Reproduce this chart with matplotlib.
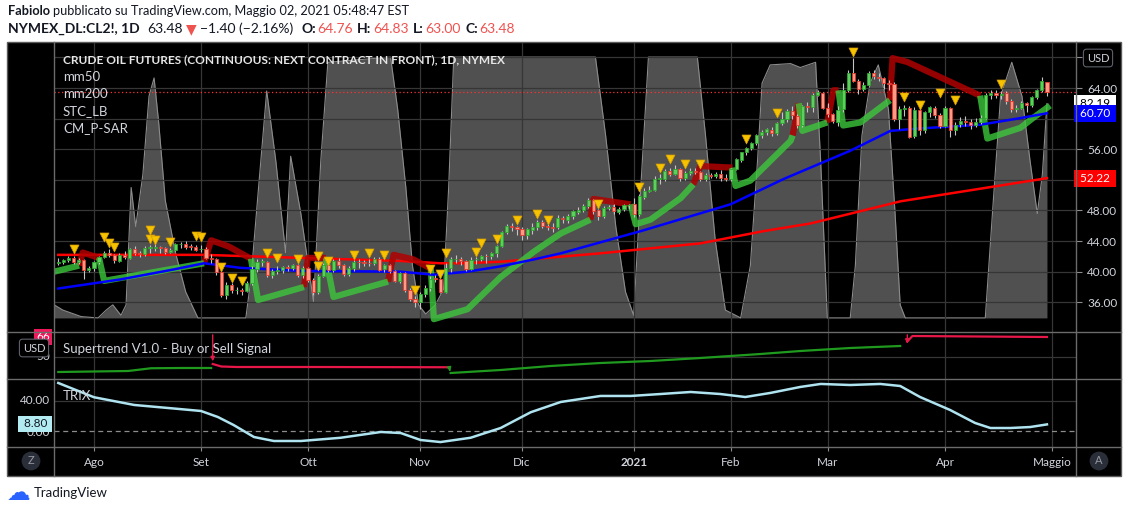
#!/usr/bin/env python3
"""
TradingView screenshot: NYMEX CL2! daily candles with mm50 / mm200,
STC_LB background, P-SAR trailing line, Supertrend and TRIX panes.
"""
import matplotlib
matplotlib.use("Agg")
import matplotlib.pyplot as plt
from matplotlib.lines import Line2D
from matplotlib.patches import Rectangle
from matplotlib.transforms import blended_transform_factory

W, H = 1130, 512
plt.rcParams['font.family'] = ['Lato', 'DejaVu Sans']

# ---- time axis (bar index of the first session of each month) ----
MONTH_LABELS = ["Ago", "Set", "Ott", "Nov", "Dic", "2021", "Feb", "Mar", "Apr", "Maggio"]
MONTH_START = [7, 28, 49, 71, 91, 113, 132, 151, 174, 195]

# ---- daily OHLC, 23 Jul 2020 .. 30 Apr 2021 ----
OPEN = [
    41.10, 41.30, 41.50, 41.85, 41.25, 41.50, 40.20,
    40.50, 41.25, 41.95, 42.40, 42.20, 41.45, 42.20, 41.85, 42.90, 42.50, 42.25,
    43.10, 43.15, 43.20, 43.05, 42.60, 42.85, 43.60, 43.65, 43.30, 43.20,
    42.90, 43.00, 41.75, 41.60, 40.00, 37.00, 38.30, 37.55, 37.60, 37.50, 38.50,
    40.40, 41.25, 41.30, 39.55, 40.05, 40.20, 40.55, 40.50, 40.85, 39.55,
    40.45, 38.95, 37.30, 39.45, 40.90, 40.20, 41.45, 40.85, 39.70, 40.45, 41.30,
    41.20, 41.15, 41.10, 41.70, 40.30, 40.90, 40.10, 38.80, 39.80, 37.60, 36.40,
    36.00, 37.05, 37.90, 39.05, 39.00, 37.40, 40.50, 41.60, 41.70, 41.35, 40.40,
    41.60, 41.70, 42.05, 42.00, 42.40, 43.30, 45.15, 45.95, 45.80,
    45.60, 44.80, 45.50, 45.90, 46.50, 46.00, 45.85, 45.80, 47.00, 46.80, 47.25,
    47.85, 48.05, 48.60, 49.35, 48.00, 47.25, 48.35, 48.50, 47.85, 48.25, 48.65,
    48.80, 47.50, 49.80, 50.55, 50.70, 52.15, 52.10, 53.10, 52.80, 53.45, 52.25,
    52.90, 53.20, 53.00, 52.15, 52.65, 52.50, 52.75, 52.25,
    52.10, 53.45, 54.65, 55.60, 56.15, 56.75, 57.85, 58.25, 58.55, 58.15, 59.40,
    59.95, 61.05, 60.40, 59.15, 61.60, 61.55, 63.10, 63.40,
    61.40, 60.55, 59.60, 61.20, 63.75, 66.00, 64.95, 63.90, 64.35, 65.90, 65.50,
    65.30, 64.70, 64.50, 59.90, 61.30, 61.45, 57.70, 61.10, 58.45, 60.90, 61.45, 60.45,
    59.05, 61.35, 58.55, 59.25, 59.65, 59.50, 59.20, 59.60, 60.05, 63.05, 63.35,
    63.05, 63.30, 62.35, 61.25, 61.35, 62.05, 61.80, 62.85, 63.75, 64.76,
]
HIGH = [
    41.75, 41.70, 42.10, 42.00, 41.80, 41.60, 40.80,
    41.45, 42.10, 42.70, 42.90, 42.25, 42.40, 42.70, 43.15, 43.30, 42.70, 43.40,
    43.50, 43.60, 43.30, 43.20, 43.10, 43.80, 43.90, 44.00, 43.60, 43.50,
    43.50, 43.20, 42.30, 41.80, 40.10, 38.60, 38.50, 38.00, 37.90, 38.80, 40.70,
    41.60, 41.70, 41.40, 40.30, 40.70, 40.80, 40.90, 41.00, 41.00, 40.70,
    40.60, 39.20, 39.70, 41.20, 41.30, 41.70, 41.80, 41.00, 40.70, 41.50, 41.60,
    41.50, 41.60, 41.90, 41.90, 41.00, 41.00, 40.20, 40.00, 39.90, 37.90, 36.80,
    37.30, 38.20, 39.40, 39.60, 39.20, 41.10, 41.90, 42.20, 41.90, 41.50, 41.90,
    41.90, 42.20, 42.30, 42.60, 43.50, 45.30, 46.20, 46.30, 46.00,
    45.90, 45.70, 46.30, 46.80, 46.70, 46.20, 46.30, 47.40, 47.30, 47.50, 48.00,
    48.40, 48.90, 49.60, 49.50, 48.20, 48.60, 48.70, 48.90, 48.40, 48.80, 48.90,
    49.60, 50.20, 50.90, 51.20, 52.50, 52.80, 53.40, 53.60, 53.90, 53.60, 53.20,
    53.50, 53.60, 53.20, 52.90, 52.90, 53.00, 53.30, 52.70,
    53.60, 54.80, 55.70, 56.30, 56.90, 58.00, 58.50, 58.80, 58.90, 59.50, 60.90,
    61.20, 61.70, 60.60, 61.80, 62.20, 63.30, 63.80, 63.50,
    62.00, 60.70, 61.60, 64.70, 66.30, 67.90, 65.20, 64.80, 66.20, 66.30, 65.90,
    65.50, 65.10, 64.80, 61.60, 61.80, 61.70, 61.50, 61.40, 61.00, 61.70, 61.60, 60.70,
    61.60, 61.50, 59.50, 60.20, 60.30, 59.90, 60.10, 60.50, 63.30, 63.80, 63.70,
    63.60, 63.60, 62.50, 61.80, 62.30, 62.20, 63.00, 63.90, 65.40, 64.83,
]
LOW = [
    40.90, 40.95, 41.30, 41.05, 41.00, 39.10, 39.90,
    40.10, 40.95, 41.80, 41.90, 41.20, 41.30, 41.60, 41.70, 42.20, 41.90, 42.10,
    42.50, 42.70, 42.50, 42.30, 42.40, 42.70, 43.10, 42.90, 42.80, 42.70,
    42.60, 41.60, 41.10, 39.60, 36.70, 36.40, 37.20, 37.10, 36.90, 37.30, 38.30,
    39.90, 40.80, 39.30, 39.20, 39.70, 39.80, 40.10, 40.20, 39.30, 39.20,
    38.70, 37.00, 37.10, 39.30, 39.90, 40.00, 40.50, 39.40, 39.50, 40.10, 40.50,
    40.70, 40.80, 40.90, 40.10, 39.90, 39.80, 38.60, 38.50, 37.40, 36.20, 35.40,
    35.10, 36.70, 37.50, 38.60, 37.20, 37.20, 39.90, 41.20, 40.90, 40.10, 40.20,
    41.00, 41.40, 41.20, 41.60, 41.90, 43.20, 44.90, 45.30, 44.80,
    44.20, 44.30, 44.90, 45.50, 45.70, 45.40, 45.20, 45.60, 46.30, 46.40, 46.90,
    47.50, 47.80, 48.30, 47.50, 46.70, 47.00, 48.00, 47.60, 47.60, 47.90, 48.20,
    47.20, 47.30, 49.50, 50.40, 50.50, 51.50, 51.80, 52.50, 52.60, 51.90, 52.00,
    52.60, 52.70, 51.80, 51.90, 52.20, 52.30, 51.80, 51.90,
    51.90, 53.30, 54.30, 55.20, 55.90, 56.60, 57.50, 57.90, 57.70, 57.90, 59.20,
    59.50, 60.00, 58.80, 58.90, 60.80, 60.80, 62.90, 61.20,
    60.20, 59.40, 59.00, 60.80, 63.50, 64.80, 63.20, 63.60, 64.20, 65.20, 64.90,
    63.90, 63.80, 59.70, 58.60, 60.30, 57.50, 57.50, 57.90, 58.10, 60.20, 60.10, 58.80,
    58.90, 57.60, 57.80, 58.90, 59.10, 58.70, 58.90, 59.30, 59.90, 62.60, 62.70,
    62.60, 61.90, 60.80, 60.90, 61.20, 60.90, 61.50, 62.50, 63.50, 63.00,
]
CLOSE = [
    41.32, 41.54, 41.85, 41.29, 41.52, 40.17, 40.52,
    41.26, 41.95, 42.44, 42.20, 41.47, 42.19, 41.86, 42.92, 42.49, 42.26, 43.14,
    43.14, 43.18, 43.07, 42.59, 42.87, 43.60, 43.64, 43.29, 43.22, 42.86,
    43.01, 41.76, 41.62, 40.02, 37.01, 38.30, 37.55, 37.58, 37.51, 38.53, 40.41,
    41.22, 41.36, 39.56, 40.05, 40.18, 40.56, 40.50, 40.85, 39.54, 40.47,
    38.97, 37.30, 39.47, 40.92, 40.20, 41.44, 40.85, 39.68, 40.45, 41.29, 41.21,
    41.13, 41.08, 41.71, 40.28, 40.89, 40.10, 38.81, 39.82, 37.64, 36.42, 36.04,
    37.06, 37.91, 39.04, 39.04, 37.39, 40.54, 41.61, 41.70, 41.37, 40.38, 41.59,
    41.68, 42.07, 41.99, 42.40, 43.31, 45.16, 45.96, 45.78, 45.59,
    44.80, 45.53, 45.89, 46.51, 46.01, 45.85, 45.77, 47.03, 46.82, 47.24, 47.87,
    48.07, 48.61, 49.35, 47.99, 47.27, 48.37, 48.48, 47.87, 48.25, 48.65, 48.77,
    47.52, 49.83, 50.53, 50.73, 52.14, 52.15, 53.11, 52.81, 53.47, 52.26, 52.88,
    53.21, 53.03, 52.17, 52.67, 52.51, 52.75, 52.24, 52.10,
    53.45, 54.66, 55.59, 56.13, 56.75, 57.87, 58.26, 58.58, 58.14, 59.37, 59.95,
    61.04, 60.42, 59.14, 61.60, 61.57, 63.12, 63.43, 61.40,
    60.54, 59.65, 61.18, 63.73, 65.99, 64.95, 63.91, 64.34, 65.92, 65.51, 65.29,
    64.70, 64.50, 59.90, 61.32, 61.45, 57.66, 61.08, 58.46, 60.87, 61.46, 60.45, 59.06,
    61.35, 58.55, 59.23, 59.67, 59.50, 59.22, 59.60, 60.08, 63.05, 63.36, 63.03,
    63.28, 62.34, 61.25, 61.33, 62.04, 61.81, 62.84, 63.76, 64.91, 63.48,
]
LAST_PRICE = 63.48

# ---- moving averages ----
MM50_X = [0, 12.3, 22.7, 28.6, 31.1, 35.8, 47.6, 67.2, 73.7, 80.3, 86.8, 93.3, 98.6,
          114.3, 131.9, 142.3, 147.6, 155.4, 163.3, 168.6, 180.9, 188.2, 194]
MM50_Y = [37.8, 39.0, 40.3, 41.1, 40.9, 40.5, 40.1, 40.0, 39.6, 40.0, 40.7, 41.6, 42.4,
          45.3, 48.8, 52.1, 53.6, 55.8, 58.4, 58.7, 59.2, 60.0, 60.70]
MM200_X = [0, 28.6, 67.2, 75, 79, 86.8, 106.4, 126, 138.4, 147.6, 165.3, 194]
MM200_Y = [42.2, 42.2, 41.4, 41.1, 41.1, 41.3, 42.4, 43.7, 45.3, 46.3, 49.2, 52.22]

# ---- STC_LB oscillator (0..100) drawn as grey area ----
STC_X = [-0.8, 0.9, 4.5, 7.8, 9.4, 10.7, 12.3, 13.3, 14.3, 15.2, 16.6, 17.8, 18.8, 19.7,
         21, 23, 25, 27.4, 36.8, 37.8, 39.3, 40.9, 42.7, 44.6, 45.6, 47.6, 50.1, 51.5,
         52.9, 65.2, 66.6, 68.2, 69.5, 70.7, 72.1, 74, 75.6, 76.6, 77.6, 105.4, 107.4,
         109.4, 111.3, 112.9, 114.3, 115.8, 125.4, 127, 128.9, 130.9, 133.9, 135.8, 137.2,
         138.1, 139.7, 143.7, 145.6, 148.6, 149.6, 150.9, 155.4, 156.4, 157.7, 159.3,
         160.9, 162.9, 164.2, 165.2, 166.2, 181.9, 183.3, 184.9, 187.1, 189.1, 190.7,
         192.1, 193.1, 194]
STC_V = [5, 3, 0.5, 0, 3, 5, 1, 5, 50, 35, 55, 85, 92, 75,
         45, 25, 10, 0, 0, 15, 50, 87, 60, 25, 62, 40, 6, 60,
         98, 100, 80, 50, 20, 5, 1.5, 5, 11, 50, 100, 100, 70,
         35, 10, 1, 50, 100, 100, 70, 30, 3, 0, 20, 60,
         90, 97, 97.5, 96, 98, 60, 0, 0, 20, 70, 90,
         97, 80, 40, 5, 0, 0, 40, 85, 98, 85, 60,
         40, 55, 82.19]

# ---- CM_P-SAR trailing line, long (green) and short (red) legs ----
SAR_LONG_X = [[-0.8, 4.1], [8, 9, 28.6], [37.8, 39.2, 48.2], [52.5, 54, 64.7],
              [73.1, 73.7, 80.3, 86.8, 93.3, 98.6, 104.4],
              [112.3, 113.3, 116.2, 122.1, 124.6], [132.3, 132.9, 135.8, 143.7, 144.1],
              [145.3, 146, 150.9], [153.1, 154, 157.4, 163.2],
              [180.9, 182.3, 188.8, 191.3, 194.6]]
SAR_LONG_Y = [[40.0, 40.8], [41.8, 38.8, 41.1], [41.7, 36.3, 38.0], [41.8, 36.7, 38.7],
              [40.4, 33.8, 35.1, 39.3, 42.6, 45.0, 46.8],
              [48.8, 46.2, 46.8, 49.6, 51.4], [53.6, 51.2, 51.9, 57.1, 57.8],
              [62.0, 58.4, 59.5], [63.7, 59.1, 59.5, 62.4],
              [63.0, 57.4, 58.8, 60.1, 61.7]]
SAR_SHORT_X = [[4.1, 4.8, 8], [28.6, 30, 33.4, 37.8], [48.2, 49, 52.5],
               [64.7, 65.8, 69.7, 73.1], [104.4, 105, 112.3], [124.6, 126, 132.3],
               [144.1, 145.3], [150.9, 152.1, 153.1], [163.2, 163.7, 166.6, 180.9]]
SAR_SHORT_Y = [[40.8, 42.5, 41.8], [41.1, 44.1, 43.3, 41.7], [38.0, 41.8, 41.8],
               [38.7, 42.2, 41.6, 40.4], [46.8, 49.5, 48.8], [51.4, 53.8, 53.6],
               [57.8, 62.0], [59.5, 63.7, 63.7], [62.4, 67.9, 67.4, 63.0]]

# ---- pivot-high markers ----
PIVOT_X = [3, 9, 10, 11, 18, 18, 19, 22, 27, 28, 32, 34, 36, 41, 43, 47, 51, 51, 53,
           58, 61, 64, 70, 73, 75, 76, 82, 83, 86, 90, 94, 96, 106, 114, 118, 120,
           123, 126, 135, 141, 156, 166, 169, 173, 176, 185]
PIVOT_Y = [42.9, 44.5, 43.8, 43.2, 45.5, 44.3, 44.2, 43.9, 44.7, 44.5, 40.6, 39.2, 38.8,
           42.5, 41.8, 41.7, 42.1, 40.7, 41.4, 42.2, 42.5, 42.2, 37.6, 40.3, 39.7, 42.4,
           42.6, 43.7, 44.3, 46.8, 47.6, 46.8, 48.8, 51.0, 53.6, 54.7, 54.1, 54.1, 57.4,
           60.7, 68.7, 62.8, 61.8, 63.3, 62.4, 64.5]

# ---- Supertrend pane ----
ST_UP1_X = [0, 13.7, 18.2, 24.1, 30]
ST_UP1_Y = [38.0, 38.8, 41.0, 41.2, 41.2]
ST_DN1_X = [30.3, 32, 35, 50, 76.5]
ST_DN1_Y = [44.4, 42.4, 42.0, 42.0, 41.8]
ST_UP2_X = [77, 86.8, 96.6, 106.4, 116.2, 126, 137.8, 145.6, 155.4, 165.2]
ST_UP2_Y = [37.2, 39.6, 42.8, 45.2, 46.8, 49.2, 52.4, 54.8, 57.2, 58.8]
ST_DN2_X = [166.6, 167.6, 194]
ST_DN2_Y = [62.4, 66.8, 66.0]

# ---- TRIX pane ----
TRIX_X = [0, 7, 14.9, 21.5, 28, 31.3, 34.4, 38.4, 42.3, 47.6, 55.4, 63.3, 67.2, 71.1,
          75, 80.9, 86.8, 92.7, 98.6, 106.4, 112.3, 118.2, 124.1, 129.9, 134.8, 139.7,
          145.6, 149.6, 155.4, 161.3, 165.2, 169.1, 175, 179.9, 182.9, 186.8, 190.7, 194]
TRIX_Y = [64, 45, 34.7, 30.7, 26.7, 18.7, 8, -8, -13.3, -13.3, -9, -1.3, -2.7, -12,
          -14.7, -9, 4, 25, 38.7, 46.7, 46.7, 49.3, 52, 49.3, 45.3, 50.7,
          58.7, 62.7, 61.3, 62.7, 60, 45.3, 28, 10.7, 4, 4, 5.3, 8.8]

PRICE_TICKS = [36, 40, 44, 48, 52, 56, 60, 64, 68]
PRICE_LABELS = ["36.00", "40.00", "44.00", "48.00", "", "56.00", "", "64.00", ""]

XMIN, XMAX = -0.84, 199.7
BG = "#000000"
GRID = "#363636"
FRAME = "#6b6b6b"
TXT = "#d1d4dc"


def __rect(l, t, r, b):
    return [l / W, 1 - b / H, (r - l) / W, (b - t) / H]


def __line(fig, x0, y0, x1, y1, color=FRAME, lw=1.0):
    fig.add_artist(Line2D([x0 / W, x1 / W], [1 - y0 / H, 1 - y1 / H],
                          color=color, lw=lw, transform=fig.transFigure, zorder=5))


def __chain(fig, x, y, parts, size):
    """Write text pieces one after another on one baseline."""
    r = fig.canvas.get_renderer()
    for txt, color, weight, gap in parts:
        t = fig.text(x / W, 1 - y / H, txt, color=color, fontweight=weight,
                     fontsize=size, va='center', ha='left')
        x = t.get_window_extent(r).x1 + gap


def __pane(fig, box):
    ax = fig.add_axes(__rect(*box))
    ax.set_facecolor('none')
    for s in ax.spines.values():
        s.set_visible(False)
    ax.set_xlim(XMIN, XMAX)
    ax.set_xticks(MONTH_START)
    ax.tick_params(axis='x', length=0, labelbottom=False)
    ax.tick_params(axis='y', length=0, labelleft=False, labelright=False)
    for m in MONTH_START:
        ax.axvline(m, color=GRID, lw=0.9, zorder=0)
    return ax


def __price(fig):
    ax = __pane(fig, (54, 43, 1076, 332))
    ax.set_ylim(32.12, 69.88)
    stc = ax.twinx()
    stc.set_ylim(-5.4, 105.4)
    stc.axis('off')
    ax.set_zorder(2)
    stc.set_zorder(1)
    stc.fill_between(STC_X, 0, STC_V, color='#505050', lw=0, zorder=1)
    stc.plot(STC_X, STC_V, color='#8c8c8c', lw=0.8, zorder=2)

    for p in PRICE_TICKS:
        ax.axhline(p, color=GRID, lw=0.9, zorder=0)
    ax.set_yticks(PRICE_TICKS, PRICE_LABELS)
    ax.yaxis.tick_right()
    ax.tick_params(axis='y', right=True, labelright=True, length=4, width=0.8,
                   color='#8c8c8c', labelcolor=TXT, labelsize=8.5, pad=4)
    ax.axhline(LAST_PRICE, color='#ff3030', lw=0.9, ls=(0, (1, 2)), zorder=1)

    ax.plot(MM200_X, MM200_Y, color='#ff0000', lw=1.8, zorder=5)
    for xs, ys in zip(SAR_SHORT_X, SAR_SHORT_Y):
        ax.plot(xs, ys, color='#b00000', lw=4.5, alpha=0.85, zorder=6,
                solid_capstyle='butt', solid_joinstyle='round')
    for xs, ys in zip(SAR_LONG_X, SAR_LONG_Y):
        ax.plot(xs, ys, color='#3cc83c', lw=4.5, alpha=0.8, zorder=6,
                solid_capstyle='butt', solid_joinstyle='round')
    ax.plot(MM50_X, MM50_Y, color='#0000ff', lw=1.8, zorder=7)

    idx = list(range(len(CLOSE)))
    up = [c >= o for o, c in zip(OPEN, CLOSE)]
    ax.vlines(idx, LOW, HIGH, color='#c4c4c4', lw=0.8, zorder=8)
    bottoms = [min(o, c) for o, c in zip(OPEN, CLOSE)]
    heights = [max(abs(c - o), 0.08) for o, c in zip(OPEN, CLOSE)]
    ax.bar(idx, heights, bottom=bottoms, width=0.62, zorder=9,
           color=['#5ccf5c' if u else '#ff9a86' for u in up],
           edgecolor=['#2ea52e' if u else '#e8382c' for u in up], lw=0.6)
    ax.scatter(PIVOT_X, PIVOT_Y, marker='v', s=42, color='#f7c300',
               edgecolors='#d49c00', linewidths=0.5, zorder=10)

    # price-scale value badges
    tr = blended_transform_factory(ax.transAxes, ax.transData)
    trs = blended_transform_factory(stc.transAxes, stc.transData)
    ax.text(1.001, 60.70, " 60.70 ", transform=tr, color='white', fontsize=8.5,
            va='center', ha='left', zorder=20, clip_on=False,
            bbox=dict(boxstyle='square,pad=0.25', fc='#0000ff', ec='none'))
    stc.text(1.001, 82.19, " 82.19 ", transform=trs, color='black', fontsize=8.5,
             va='center', ha='left', zorder=21, clip_on=False,
             bbox=dict(boxstyle='square,pad=0.25', fc='white', ec='none'))
    ax.text(1.001, MM200_Y[-1], " 52.22 ", transform=tr, color='white', fontsize=8.5,
            va='center', ha='left', zorder=20, clip_on=False,
            bbox=dict(boxstyle='square,pad=0.25', fc='#ff0000', ec='none'))


def __supertrend(fig):
    ax = __pane(fig, (54, 332, 1076, 379))
    ax.set_zorder(2)
    ax.set_ylim(32.4, 70)
    ax.axhline(50, color=GRID, lw=0.9, zorder=0)
    ax.plot(ST_UP1_X, ST_UP1_Y, color='#1f9a1f', lw=1.6)
    ax.plot(ST_UP2_X, ST_UP2_Y, color='#1f9a1f', lw=1.6)
    ax.plot(ST_DN1_X, ST_DN1_Y, color='#e8174a', lw=1.6)
    ax.plot(ST_DN2_X, ST_DN2_Y, color='#e8174a', lw=1.6)
    ax.annotate('', xy=(ST_DN1_X[0], ST_DN1_Y[0]), xytext=(ST_DN1_X[0], 70),
                arrowprops=dict(arrowstyle='-|>', color='#e8174a', lw=1, mutation_scale=6))
    ax.annotate('', xy=(ST_DN2_X[0], ST_DN2_Y[0] - 4), xytext=(ST_DN2_X[0], 70),
                arrowprops=dict(arrowstyle='-|>', color='#e8174a', lw=1, mutation_scale=6))
    ax.annotate('', xy=(ST_UP2_X[0], ST_UP2_Y[0] - 1), xytext=(ST_UP2_X[0] - 0.3, ST_DN1_Y[-1]),
                arrowprops=dict(arrowstyle='-|>', color='#1f9a1f', lw=1, mutation_scale=6))
    tr = blended_transform_factory(ax.transAxes, ax.transData)
    ax.text(-0.004, 50, "50", transform=tr, color=TXT, fontsize=8.5, ha='right',
            va='center', clip_on=False)
    ax.text(-0.004, ST_DN2_Y[-1], "66", transform=tr, color='white', fontsize=8.5,
            ha='right', va='center', clip_on=False,
            bbox=dict(boxstyle='square,pad=0.2', fc='#f0185a', ec='none'))
    return ax


def __trix(fig):
    ax = __pane(fig, (54, 379, 1076, 447))
    ax.set_zorder(2)
    ax.set_ylim(-21.3, 69.3)
    ax.axhline(40, color=GRID, lw=0.9, zorder=0)
    ax.axhline(0, color='#8c8c8c', lw=0.9, ls=(0, (4, 3)), zorder=1)
    ax.plot(TRIX_X, TRIX_Y, color='#aee3ef', lw=1.8, zorder=3)
    ax.set_xticks(MONTH_START, MONTH_LABELS)
    ax.tick_params(axis='x', length=3, width=0.8, color='#8c8c8c', labelbottom=True,
                   labelcolor=TXT, labelsize=8.5, pad=4)
    for lab in ax.get_xticklabels():
        if lab.get_text() == "2021":
            lab.set_fontweight('bold')
    tr = blended_transform_factory(ax.transAxes, ax.transData)
    ax.text(-0.004, 40, "40.00", transform=tr, color=TXT, fontsize=8.5, ha='right',
            va='center', clip_on=False)
    ax.text(-0.004, -1.5, "0.00", transform=tr, color=TXT, fontsize=8.5, ha='right',
            va='center', clip_on=False)
    ax.text(-0.004, TRIX_Y[-1] + 1, " 8.80 ", transform=tr, color='#131722', fontsize=8.5,
            ha='right', va='center', clip_on=False, zorder=20,
            bbox=dict(boxstyle='square,pad=0.2', fc='#b2ebf2', ec='none'))
    return ax


def main():
    fig = plt.figure(figsize=(W / 100, H / 100), dpi=100, facecolor='white')
    fig.add_artist(Rectangle((7 / W, 1 - 476 / H), (1121 - 7) / W, (476 - 42) / H,
                             transform=fig.transFigure, fc=BG, ec='#5a5a5a', lw=1,
                             zorder=-10))

    __price(fig)
    __supertrend(fig)
    __trix(fig)

    # pane separators and scale borders
    for y in (332, 379, 447):
        __line(fig, 7, y, 1121, y)
    __line(fig, 54, 42, 54, 476)
    __line(fig, 1076, 42, 1076, 476)

    # pane legends
    fig.text(63 / W, 1 - 60 / H, "CRUDE OIL FUTURES (CONTINUOUS: NEXT CONTRACT IN FRONT), 1D, NYMEX",
             color='#e6e6e6', fontsize=8.6, fontweight='bold', va='center', zorder=10)
    for i, name in enumerate(["mm50", "mm200", "STC_LB", "CM_P-SAR"]):
        fig.text(63 / W, 1 - (77 + 17 * i) / H, name, color=TXT, fontsize=9.5,
                 va='center', zorder=10)
    fig.text(63 / W, 1 - 349 / H, "Supertrend V1.0 - Buy or Sell Signal", color=TXT,
             fontsize=9.5, va='center', zorder=10)
    fig.text(63 / W, 1 - 396 / H, "TRIX", color=TXT, fontsize=9.5, va='center', zorder=10)

    # scale badges
    box = dict(boxstyle='round,pad=0.3', fc=BG, ec='#5d606b', lw=0.8)
    fig.text(1098 / W, 1 - 58 / H, "USD", color=TXT, fontsize=8, ha='center',
             va='center', bbox=box, zorder=10)
    fig.text(34 / W, 1 - 348 / H, "USD", color=TXT, fontsize=8, ha='center',
             va='center', bbox=box, zorder=30)
    circ = dict(boxstyle='circle,pad=0.35', fc='#2a2e39', ec='none')
    fig.text(31 / W, 1 - 461 / H, "Z", color='#9598a1', fontsize=8, ha='center',
             va='center', bbox=circ, zorder=10)
    fig.text(1099 / W, 1 - 461 / H, "A", color='#9598a1', fontsize=8, ha='center',
             va='center', bbox=circ, zorder=10)

    # header
    __chain(fig, 8, 11, [("Fabiolo", '#131722', 'bold', 3),
                         ("pubblicato su TradingView.com, Maggio 02, 2021 05:48:47 EST",
                          '#131722', 'normal', 0)], 9.2)
    red = '#ef5350'
    __chain(fig, 8, 29, [("NYMEX_DL:CL2!, 1D", '#131722', 'bold', 8),
                         ("63.48", '#131722', 'normal', 3),
                         ("\u25bc", red, 'normal', 3),
                         ("\u22121.40 (\u22122.16%)", '#131722', 'normal', 8),
                         ("O:", '#131722', 'bold', 1), ("64.76", red, 'normal', 5),
                         ("H:", '#131722', 'bold', 1), ("64.83", red, 'normal', 5),
                         ("L:", '#131722', 'bold', 1), ("63.00", red, 'normal', 5),
                         ("C:", '#131722', 'bold', 1), ("63.48", red, 'normal', 0)], 10)

    # footer
    fig.text(19 / W, 1 - 493 / H, "\u2601", color='#2962ff', fontsize=17,
             ha='center', va='center', family='DejaVu Sans')
    fig.text(34 / W, 1 - 493 / H, "TradingView", color='#131722', fontsize=9.5,
             va='center')

    fig.savefig("out.png", dpi=100, facecolor='white')


if __name__ == '__main__':
    main()
